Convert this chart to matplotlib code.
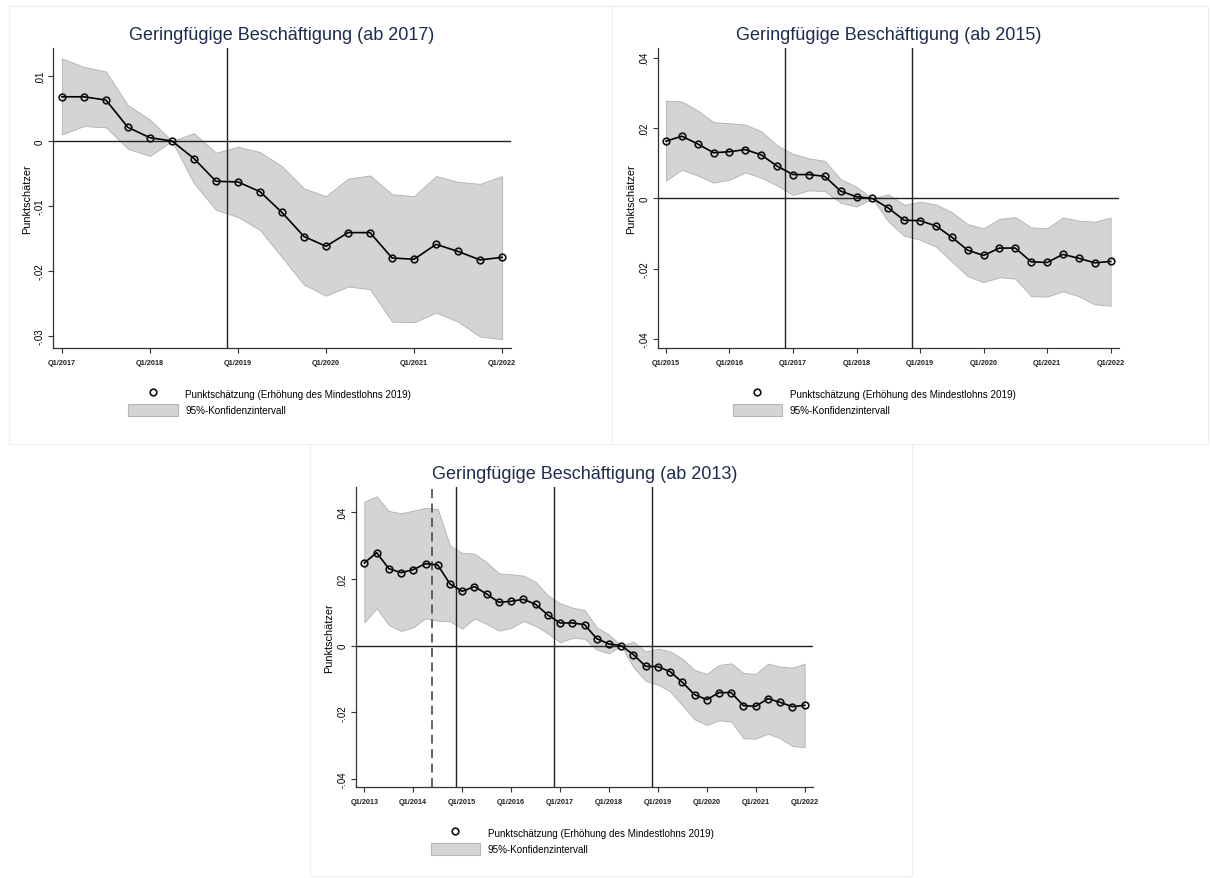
import matplotlib

matplotlib.use("Agg")
import matplotlib.pyplot as plt
from matplotlib.lines import Line2D
from matplotlib.patches import Patch, Rectangle

plt.rcParams["font.family"] = ["Liberation Sans", "DejaVu Sans"]

# ===== データ（四半期 Q1/2013 〜 Q1/2022） =====
years = [2013, 2014, 2015, 2016, 2017, 2018, 2019, 2020, 2021, 2022]

punkt = [
    0.0248, 0.0279, 0.0231, 0.0219,
    0.0228, 0.0246, 0.0242, 0.0185,
    0.0163, 0.0177, 0.0155, 0.0130,
    0.0133, 0.0139, 0.0124, 0.0092,
    0.0068, 0.0068, 0.0063, 0.0021,
    0.0005, 0.0000, -0.0027, -0.0062,
    -0.0063, -0.0078, -0.0110, -0.0147,
    -0.0162, -0.0141, -0.0141, -0.0180,
    -0.0182, -0.0159, -0.0170, -0.0183,
    -0.0179,
]
ci_upper = [
    0.0432, 0.0448, 0.0404, 0.0397,
    0.0405, 0.0413, 0.0410, 0.0300,
    0.0278, 0.0276, 0.0250, 0.0217,
    0.0214, 0.0210, 0.0191, 0.0151,
    0.0127, 0.0114, 0.0107, 0.0055,
    0.0033, 0.0000, 0.0012, -0.0018,
    -0.0009, -0.0017, -0.0039, -0.0073,
    -0.0085, -0.0058, -0.0053, -0.0082,
    -0.0085, -0.0054, -0.0063, -0.0066,
    -0.0054,
]
ci_lower = [
    0.0070, 0.0112, 0.0062, 0.0044,
    0.0055, 0.0082, 0.0075, 0.0073,
    0.0051, 0.0082, 0.0065, 0.0045,
    0.0053, 0.0074, 0.0059, 0.0037,
    0.0010, 0.0023, 0.0021, -0.0012,
    -0.0023, 0.0000, -0.0065, -0.0106,
    -0.0117, -0.0137, -0.0179, -0.0221,
    -0.0238, -0.0224, -0.0228, -0.0278,
    -0.0279, -0.0264, -0.0278, -0.0301,
    -0.0305,
]

# 縦線（四半期インデックス、Q1/2013 = 0）
dashed_line = 5.5
solid_lines = [7.5, 15.5, 23.5]

# ===== パネル設定 =====
panel_titles = [
    "Geringfügige Beschäftigung (ab 2017)",
    "Geringfügige Beschäftigung (ab 2015)",
    "Geringfügige Beschäftigung (ab 2013)",
]
panel_start = [16, 8, 0]
panel_ylim = [(-0.0319, 0.01426), (-0.0426, 0.0427), (-0.0425, 0.0475)]
panel_yticks = [
    [-0.03, -0.02, -0.01, 0, 0.01],
    [-0.04, -0.02, 0, 0.02, 0.04],
    [-0.04, -0.02, 0, 0.02, 0.04],
]
panel_yticklabels = [
    ["-.03", "-.02", "-.01", "0", ".01"],
    ["-.04", "-.02", "0", ".02", ".04"],
    ["-.04", "-.02", "0", ".02", ".04"],
]
panel_xpad = [(0.39, 0.39), (0.52, 0.53), (0.71, 0.66)]
# 軸の位置（ピクセル: 左, 上, 幅, 高さ）
panel_box = [
    (53.3, 49.3, 457.4, 300.0),
    (657.7, 49.3, 461.3, 300.0),
    (355.7, 488.3, 457.0, 300.0),
]
# パネルの枠（ピクセル: 左, 上, 右, 下）
panel_frame = [
    (9, 7, 612, 445),
    (612, 7, 1208, 445),
    (310, 445, 912, 877),
]

W, H = 1210, 879
fig = plt.figure(figsize=(W / 100, H / 100), dpi=100)
fig.patch.set_facecolor("white")

title_color = "#1c2b4e"
band_face = "#d4d4d4"
band_edge = "#b0b0b0"

for p in range(3):
    left, top, width, height = panel_box[p]
    ax = fig.add_axes([left / W, 1 - (top + height) / H, width / W, height / H])

    start = panel_start[p]
    x = list(range(start, len(punkt)))
    y = punkt[start:]
    lo = ci_lower[start:]
    hi = ci_upper[start:]

    ax.fill_between(x, lo, hi, facecolor=band_face, edgecolor=band_edge,
                    linewidth=0.6, zorder=1)
    ax.axhline(0, color="#222222", linewidth=1.0, zorder=2)
    for v in solid_lines:
        if v > start:
            ax.axvline(v, color="#222222", linewidth=1.0, zorder=2)
    if dashed_line > start:
        ax.axvline(dashed_line, color="#555555", linewidth=1.3,
                   linestyle=(0, (5, 3)), zorder=2)
    ax.plot(x, y, color="black", linewidth=1.2, marker="o", markersize=4.8,
            markerfacecolor="none", markeredgecolor="#111111",
            markeredgewidth=1.2, zorder=3)

    ax.set_xlim(start - panel_xpad[p][0], len(punkt) - 1 + panel_xpad[p][1])
    ax.set_ylim(*panel_ylim[p])

    xt = [i * 4 for i in range(len(years)) if i * 4 >= start]
    ax.set_xticks(xt)
    ax.set_xticklabels([f"Q1/{years[i // 4]}" for i in xt], fontsize=5.3,
                       fontweight="bold", color="#222222")
    ax.set_yticks(panel_yticks[p])
    ax.set_yticklabels(panel_yticklabels[p], fontsize=7, rotation=90,
                       va="center")
    ax.tick_params(axis="both", length=3.5, width=0.8, color="#333333")
    ax.tick_params(axis="x", pad=4)
    ax.tick_params(axis="y", pad=2.5)

    for s in ["top", "right"]:
        ax.spines[s].set_visible(False)
    for s in ["left", "bottom"]:
        ax.spines[s].set_color("#333333")
        ax.spines[s].set_linewidth(0.9)

    ax.set_ylabel("Punktschätzer", fontsize=7.8, labelpad=2)
    ax.set_title(panel_titles[p], fontsize=13, color=title_color, pad=7)

    handles = [
        Line2D([], [], linestyle="none", marker="o", markersize=4.8,
               markerfacecolor="none", markeredgecolor="#111111",
               markeredgewidth=1.2),
        Patch(facecolor=band_face, edgecolor="#b5b5b5", linewidth=0.8),
    ]
    labels = [
        "Punktschätzung (Erhöhung des Mindestlohns 2019)",
        "95%-Konfidenzintervall",
    ]
    ax.legend(handles, labels, loc="upper left",
              bbox_to_anchor=(75 / width, -39.5 / height), frameon=False,
              fontsize=7.1, handlelength=5.0, handleheight=1.45,
              handletextpad=0.8, labelspacing=0.45, borderpad=0,
              borderaxespad=0)

    # パネルの薄い枠
    fl, ft, fr, fb = panel_frame[p]
    fig.add_artist(Rectangle((fl / W, 1 - fb / H), (fr - fl) / W,
                             (fb - ft) / H, transform=fig.transFigure,
                             facecolor="none", edgecolor="#efefef",
                             linewidth=0.8))

fig.savefig("out.png", dpi=100)
